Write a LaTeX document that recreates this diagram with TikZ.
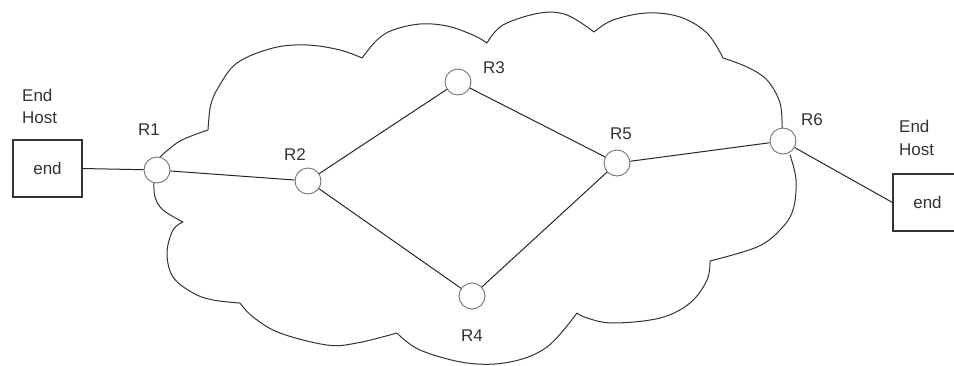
\documentclass[tikz,border=0pt]{standalone}
\usepackage{fontspec}
\setmainfont{Liberation Sans}
\begin{document}
\begin{tikzpicture}[x=1pt,y=-1pt,
  router/.style={circle, draw=black!55, line width=0.9pt, fill=white, minimum size=26pt, inner sep=0pt},
  lbl/.style={text=black!80, font=\fontsize{17}{22}\selectfont, inner sep=0pt},
  hostlbl/.style={text=black!80, font=\fontsize{17}{22.5}\selectfont, inner sep=0pt, align=left, anchor=west},
  hostbox/.style={draw=black!80, line width=1.1pt, minimum width=69pt, minimum height=57pt, inner sep=0pt, font=\fontsize{17}{21}\selectfont, text=black!80},
  link/.style={draw=black!85, line width=1pt},
  cloudline/.style={draw=black!80, line width=1pt, line join=round}]

\useasboundingbox (0,0) rectangle (954,365);

% cloud outline (lobes meeting at cusps)
\draw[cloudline] plot[smooth, tension=0.6] coordinates {(160,157)(180,141)(208,130)};
\draw[cloudline] plot[smooth, tension=0.6] coordinates {(208,130)(209,117)(211,104)(218,88)(237,63)(273,48)(307,45)(340,50)(362,58)};
\draw[cloudline] plot[smooth, tension=0.6] coordinates {(362,58)(377,40)(393,30)(420,24)(447,26)(473,35)(487,43)};
\draw[cloudline] plot[smooth, tension=0.6] coordinates {(487,43)(503,25)(540,13)(567,15)(594,32)};
\draw[cloudline] plot[smooth, tension=0.6] coordinates {(594,32)(613,20)(647,13)(680,17)(707,33)(723,58)};
\draw[cloudline] plot[smooth, tension=0.6] coordinates {(723,58)(747,67)(767,80)(780,103)(782,128)};
\draw[cloudline] plot[smooth, tension=0.6] coordinates {(790,155)(796,180)(793,210)(780,230)(757,247)(710,261)};
\draw[cloudline] plot[smooth, tension=0.6] coordinates {(710,261)(707,280)(690,303)(660,318)(613,323)(587,318)(577,313)};
\draw[cloudline] plot[smooth, tension=0.6] coordinates {(577,313)(547,347)(510,362)(467,363)(420,350)(397,333)};
\draw[cloudline] plot[smooth, tension=0.6] coordinates {(397,333)(357,343)(327,345)(280,333)(253,317)(240,303)};
\draw[cloudline] plot[smooth, tension=0.6] coordinates {(240,303)(213,300)(193,293)(173,277)(167,253)(173,230)(183,222)};
\draw[cloudline] plot[smooth, tension=0.6] coordinates {(183,222)(163,210)(155,197)(154,183)};

% end hosts
\node[hostbox] (hostL) at (47.5,168.5) {end};
\node[hostbox] (hostR) at (927.5,202.5) {end};
\node[hostlbl] (hostLlbl) at (22,106.5) {End\\Host};
\node[hostlbl] (hostRlbl) at (899,138) {End\\Host};

% routers
\node[router] (R1) at (157,170) {};
\node[router] (R2) at (308,181) {};
\node[router] (R3) at (458,82) {};
\node[router] (R4) at (472,296) {};
\node[router] (R5) at (617,163) {};
\node[router] (R6) at (783,141) {};

% router labels
\node[lbl] (l1) at (149,130) {R1};
\node[lbl] (l2) at (295,155) {R2};
\node[lbl] (l3) at (494,68) {R3};
\node[lbl] (l4) at (472,336) {R4};
\node[lbl] (l5) at (621,134) {R5};
\node[lbl] (l6) at (812,120) {R6};

% links
\draw[link] (hostL.east) -- (R1);
\draw[link] (R1) -- (R2);
\draw[link] (R2) -- (R3);
\draw[link] (R2) -- (R4);
\draw[link] (R3) -- (R5);
\draw[link] (R4) -- (R5);
\draw[link] (R5) -- (R6);
\draw[link] (R6) -- (hostR.west);
\end{tikzpicture}
\end{document}
